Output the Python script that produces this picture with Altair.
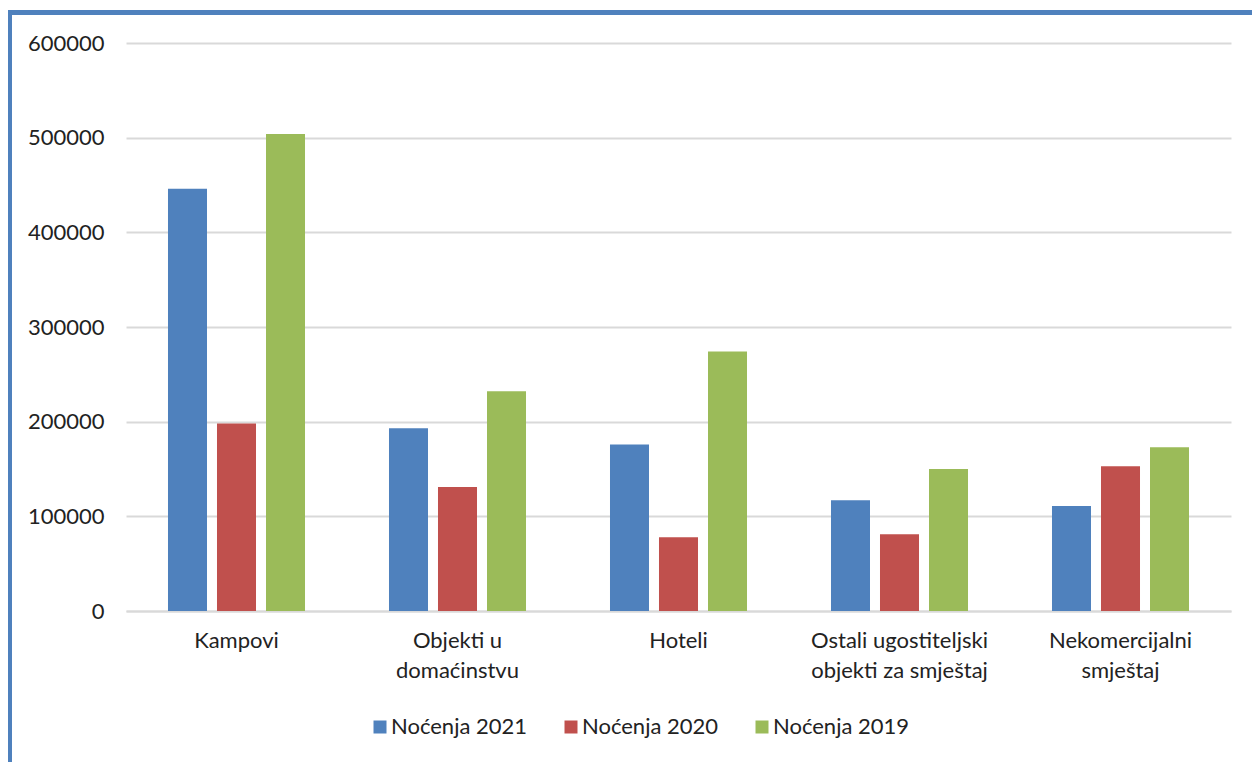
import altair as alt
import pandas as pd

# Overnight stays by accommodation type
categories = [
    "Kampovi",
    "Objekti u domaćinstvu",
    "Hoteli",
    "Ostali ugostiteljski objekti za smještaj",
    "Nekomercijalni smještaj",
]
# axis label lines for each category
category_lines = [
    ["Kampovi"],
    ["Objekti u", "domaćinstvu"],
    ["Hoteli"],
    ["Ostali ugostiteljski", "objekti za smještaj"],
    ["Nekomercijalni", "smještaj"],
]
series = ["Noćenja 2021", "Noćenja 2020", "Noćenja 2019"]
values_2021 = [446000, 193000, 176000, 117000, 111000]
values_2020 = [198000, 131000, 78000, 81000, 153000]
values_2019 = [504000, 232000, 274000, 150000, 173000]
colors = ["#4F81BD", "#C0504D", "#9BBB59"]
y_ticks = [0, 100000, 200000, 300000, 400000, 500000, 600000]

rows = []
for name, vals in zip(series, [values_2021, values_2020, values_2019]):
    for cat, v in zip(categories, vals):
        rows.append({"category": cat, "series": name, "value": v})
df = pd.DataFrame(rows)

FONT = "Lato"
TEXT = "#222222"
FS = 22
W, H = 1105, 568

label_map = "{" + ", ".join(
    "'%s': [%s]" % (c, ", ".join("'%s'" % s for s in lines))
    for c, lines in zip(categories, category_lines)
) + "}"

bars = alt.Chart(df).mark_bar().encode(
    x=alt.X(
        "category:N",
        sort=categories,
        scale=alt.Scale(paddingInner=0.38, paddingOuter=0.19),
        axis=alt.Axis(
            title=None,
            labelAngle=0,
            labelExpr=label_map + "[datum.value]",
            labelFont=FONT,
            labelFontSize=FS,
            labelColor=TEXT,
            labelPadding=19,
            labelLineHeight=30,
            labelBaseline="top",
            ticks=False,
            domain=True,
            domainColor="#D9D9D9",
            domainWidth=2,
        ),
    ),
    xOffset=alt.XOffset(
        "series:N",
        sort=series,
        scale=alt.Scale(paddingInner=0.204, paddingOuter=0),
    ),
    y=alt.Y(
        "value:Q",
        scale=alt.Scale(domain=[0, 600000], nice=False),
        axis=alt.Axis(
            title=None,
            values=y_ticks,
            format="d",
            labelFont=FONT,
            labelFontSize=FS,
            labelColor=TEXT,
            labelPadding=22,
            ticks=False,
            domain=False,
            gridColor="#D9D9D9",
            gridWidth=2,
        ),
    ),
    color=alt.Color(
        "series:N",
        sort=series,
        scale=alt.Scale(domain=series, range=colors),
        legend=alt.Legend(
            title=None,
            orient="none",
            legendX=243,
            legendY=673,
            direction="horizontal",
            symbolType="square",
            symbolSize=169,
            symbolStrokeWidth=0,
            labelFont=FONT,
            labelFontSize=FS,
            labelColor=TEXT,
            labelOffset=0,
            columnPadding=32,
        ),
    ),
)

# frame lines along the left and top edge of the chart
frame = pd.DataFrame({"k": [0]})
left_edge = alt.Chart(frame).mark_rule(color="#4F81BD", strokeWidth=4).encode(
    x=alt.value(-116), y=alt.value(-33), y2=alt.value(H + 200)
)
top_edge = alt.Chart(frame).mark_rule(color="#4F81BD", strokeWidth=5).encode(
    x=alt.value(-118), x2=alt.value(W + 200), y=alt.value(-30.5)
)

chart = alt.layer(bars, left_edge, top_edge).properties(
    width=W,
    height=H,
    autosize=alt.AutoSizeParams(type="none"),
    padding={"left": 126, "top": 43, "right": 21, "bottom": 151},
    background="white",
).configure_view(stroke=None)

chart.save("out.html", embed_options={"renderer": "svg", "actions": False})
